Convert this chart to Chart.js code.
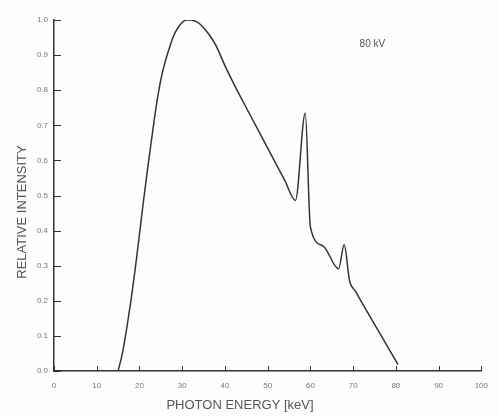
<!DOCTYPE html>
<html>
<head>
<meta charset="utf-8">
<script src="https://cdn.jsdelivr.net/npm/chart.js@4.4.1/dist/chart.umd.min.js"></script>
<style>
    html, body { margin: 0; padding: 0; background: #fdfdfb; }
    #wrap { width: 498px; height: 416px; position: relative; }
</style>
</head>
<body>
<div id="wrap"><canvas id="spectrumChart" width="498" height="416"></canvas></div>
<script>
// Photon energy (keV) and relative intensity
const energy = [15, 16, 17, 18, 19, 20, 21, 22, 23, 24, 25, 26, 27, 28, 29, 30, 31, 32, 33, 34, 35, 36.5, 38, 40, 42.5, 45, 50, 54, 56.5, 58.8, 60, 63, 66.6, 67.9, 69.2, 70.5, 73, 76.5, 78.8, 80.5];
const intensity = [0, 0.05, 0.12, 0.2, 0.29, 0.39, 0.49, 0.585, 0.675, 0.76, 0.83, 0.88, 0.92, 0.955, 0.978, 0.993, 1.0, 1.0, 0.997, 0.99, 0.978, 0.955, 0.925, 0.87, 0.808, 0.75, 0.635, 0.543, 0.486, 0.735, 0.41, 0.356, 0.291, 0.36, 0.255, 0.228, 0.175, 0.102, 0.054, 0.018];
const xTicks = [0, 10, 20, 30, 40, 50, 60, 70, 80, 90, 100];
const yTicks = [0, 0.1, 0.2, 0.3, 0.4, 0.5, 0.6, 0.7, 0.8, 0.9, 1.0];

const INK = '#333';
const LABEL = '#777';

// Tick marks drawn inside the plot, plus the axis titles and the kV note
const annotations = {
    id: 'annotations',
    afterDraw(chart) {
        const { ctx, chartArea, scales } = chart;
        ctx.save();
        ctx.strokeStyle = INK;
        ctx.lineWidth = 1;
        ctx.beginPath();
        yTicks.forEach(v => {
            const y = Math.round(scales.y.getPixelForValue(v)) + 0.5;
            ctx.moveTo(chartArea.left, y);
            ctx.lineTo(chartArea.left + 7, y);
        });
        xTicks.forEach(v => {
            const x = Math.round(scales.x.getPixelForValue(v)) + 0.5;
            ctx.moveTo(x, chartArea.bottom);
            ctx.lineTo(x, chartArea.bottom - 5);
        });
        ctx.stroke();

        ctx.fillStyle = '#555';
        ctx.font = '13px "Liberation Sans", Arial, sans-serif';
        ctx.textAlign = 'center';
        ctx.textBaseline = 'middle';
        ctx.fillText('PHOTON ENERGY [keV]', 240, 405);

        ctx.save();
        ctx.translate(22, 212);
        ctx.rotate(-Math.PI / 2);
        ctx.fillText('RELATIVE INTENSITY', 0, 0);
        ctx.restore();

        ctx.font = '10px "Liberation Sans", Arial, sans-serif';
        ctx.fillText('80 kV', scales.x.getPixelForValue(74.5), scales.y.getPixelForValue(0.93));
        ctx.restore();
    }
};

new Chart(document.getElementById('spectrumChart'), {
    type: 'line',
    data: {
        datasets: [{
            data: energy.map((e, i) => ({ x: e, y: intensity[i] })),
            borderColor: INK,
            borderWidth: 1.5,
            pointRadius: 0,
            fill: false,
            cubicInterpolationMode: 'monotone'
        }]
    },
    options: {
        responsive: false,
        animation: false,
        layout: { padding: { top: 20, right: 10, left: 0, bottom: 0 } },
        plugins: { legend: { display: false }, tooltip: { enabled: false } },
        scales: {
            x: {
                type: 'linear',
                min: 0,
                max: 100,
                afterBuildTicks: s => { s.ticks = xTicks.map(v => ({ value: v })); },
                afterFit: s => { s.height = 45; },
                grid: { display: false, drawTicks: false },
                border: { color: INK, width: 1.5 },
                ticks: { color: LABEL, font: { size: 8 }, padding: 10, maxRotation: 0 }
            },
            y: {
                type: 'linear',
                min: 0,
                max: 1.0,
                afterBuildTicks: s => { s.ticks = yTicks.map(v => ({ value: v })); },
                afterFit: s => { s.width = 54; },
                grid: { display: false, drawTicks: false },
                border: { color: INK, width: 1.5 },
                ticks: { color: LABEL, font: { size: 8 }, padding: 6, callback: v => v.toFixed(1) }
            }
        }
    },
    plugins: [annotations]
});
</script>
</body>
</html>
